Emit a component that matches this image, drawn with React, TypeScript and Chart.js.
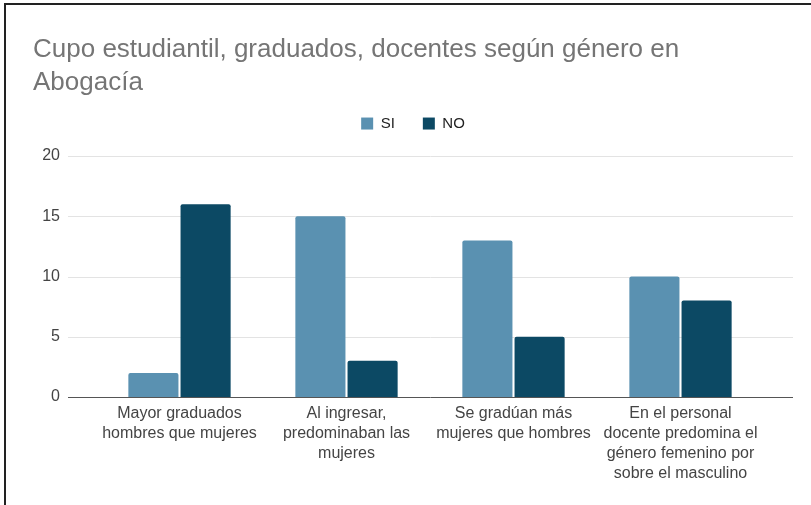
import React, { useEffect, useRef } from "react";
import { Chart, registerables } from "chart.js";

Chart.register(...registerables);

const titleLines = ["Cupo estudiantil, graduados, docentes según género en", "Abogacía"];
const categories = [
  ["Mayor graduados", "hombres que mujeres"],
  ["Al ingresar,", "predominaban las", "mujeres"],
  ["Se gradúan más", "mujeres que hombres"],
  ["En el personal", "docente predomina el", "género femenino por", "sobre el masculino"],
];
const seriesNames = ["SI", "NO"];
const siValues = [2, 15, 13, 10];
const noValues = [16, 3, 5, 8];
const yMin = 0;
const yMax = 20;
const yStep = 5;

const FONT = "'Liberation Sans', Arial, sans-serif";

const legendGapPlugin = {
  id: "legendGap",
  beforeInit(chart: any) {
    const legend = chart.legend;
    if (!legend) return;
    const origFit = legend.fit;
    legend.fit = function () {
      origFit.call(this);
      this.height += 15;
    };
  },
};

const gridPlugin = {
  id: "extendedGrid",
  beforeDatasetsDraw(chart: any) {
    const { ctx, chartArea, scales } = chart;
    const y = scales.y;
    const x0 = chartArea.left - 28;
    const x1 = chartArea.right + 29;
    ctx.save();
    ctx.strokeStyle = "#e3e3e3";
    ctx.lineWidth = 1;
    y.ticks.forEach((t: any) => {
      if (t.value === yMin) return;
      const py = Math.round(y.getPixelForValue(t.value)) + 0.5;
      ctx.beginPath();
      ctx.moveTo(x0, py);
      ctx.lineTo(x1, py);
      ctx.stroke();
    });
    ctx.restore();
  },
  afterDatasetsDraw(chart: any) {
    const { ctx, chartArea, scales } = chart;
    const y = scales.y;
    const x0 = chartArea.left - 28;
    const x1 = chartArea.right + 29;
    const py = Math.round(y.getPixelForValue(yMin)) + 0.5;
    ctx.save();
    ctx.strokeStyle = "#555555";
    ctx.lineWidth = 1;
    ctx.beginPath();
    ctx.moveTo(x0, py);
    ctx.lineTo(x1, py);
    ctx.stroke();
    ctx.restore();
  },
};

export default function App() {
  const canvasRef = useRef<HTMLCanvasElement | null>(null);

  useEffect(() => {
    if (!canvasRef.current) return;
    const chart = new Chart(canvasRef.current, {
      type: "bar",
      data: {
        labels: categories,
        datasets: [
          {
            label: seriesNames[0],
            data: siValues,
            backgroundColor: "#5a91b1",
            borderRadius: 2,
            borderSkipped: "bottom",
            categoryPercentage: 0.625,
            barPercentage: 0.96,
          },
          {
            label: seriesNames[1],
            data: noValues,
            backgroundColor: "#0c4964",
            borderRadius: 2,
            borderSkipped: "bottom",
            categoryPercentage: 0.625,
            barPercentage: 0.96,
          },
        ],
      },
      options: {
        responsive: false,
        animation: false,
        layout: { padding: { left: 33, right: 18, top: 14, bottom: 14 } },
        plugins: {
          title: {
            display: true,
            text: titleLines,
            align: "start",
            color: "#757575",
            font: { family: FONT, size: 26, weight: "normal", lineHeight: 1.27 },
            padding: { top: 19, bottom: -11 },
          },
          legend: {
            display: true,
            position: "top",
            align: "center",
            labels: {
              boxWidth: 12,
              boxHeight: 12,
              padding: 28,
              color: "#222222",
              font: { family: FONT, size: 15 },
            },
          },
          tooltip: { enabled: false },
        },
        scales: {
          x: {
            grid: { display: false, drawTicks: false },
            border: { display: false },
            ticks: {
              color: "#444444",
              font: { family: FONT, size: 16, lineHeight: 1.25 },
              padding: 7,
              autoSkip: false,
              maxRotation: 0,
              minRotation: 0,
            },
          },
          y: {
            position: "left",
            min: yMin,
            max: yMax,
            grid: { display: false, drawTicks: false },
            border: { display: false },
            ticks: {
              stepSize: yStep,
              color: "#444444",
              font: { family: FONT, size: 16 },
              padding: 36,
            },
            afterFit(scale: any) {
              scale.width = 63;
            },
          },
          yRight: {
            position: "right",
            display: true,
            grid: { display: false, drawTicks: false },
            border: { display: false },
            ticks: { display: false },
            afterFit(scale: any) {
              scale.width = 29;
            },
          },
        },
      },
      plugins: [legendGapPlugin, gridPlugin],
    } as any);
    return () => chart.destroy();
  }, []);

  return (
    <div style={{ position: "absolute", left: 0, top: 0, width: 811, height: 505, background: "#ffffff", overflow: "hidden" }}>
      <canvas ref={canvasRef} width={811} height={505} style={{ position: "absolute", left: 0, top: 0 }} />
      <div
        style={{
          position: "absolute",
          left: 4,
          top: 3,
          width: 811,
          height: 510,
          borderTop: "2px solid #222",
          borderLeft: "2px solid #222",
          boxSizing: "border-box",
          pointerEvents: "none",
        }}
      />
    </div>
  );
}
